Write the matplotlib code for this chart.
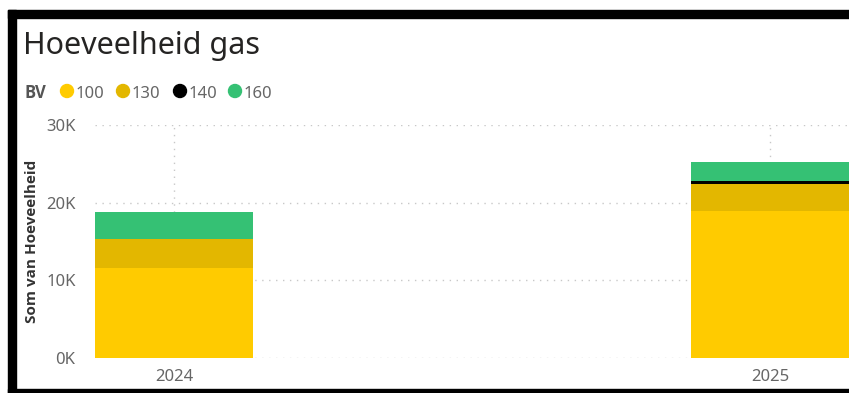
import numpy as np
import matplotlib.pyplot as plt
from matplotlib.patches import Rectangle, Ellipse

# data
years = ['2024', '2025']
bv_labels = ['100', '130', '140', '160']
bv_100 = [11600, 18900]
bv_130 = [3660, 3500]
bv_140 = [0, 400]
bv_160 = [3540, 2400]
y_ticks = [0, 10000, 20000, 30000]
y_tick_labels = ['0K', '10K', '20K', '30K']

colors = ['#FFCB00', '#E3B700', '#000000', '#35C174']
series = [bv_100, bv_130, bv_140, bv_160]

W, H = 849, 393
fig = plt.figure(figsize=(W / 100, H / 100), dpi=100)
plt.rcParams['font.family'] = ['Noto Sans', 'DejaVu Sans']

def px(x, y):
    # pixel (top-left origin) -> figure fraction
    return x / W, 1 - y / H

ax = fig.add_axes([95 / W, 1 - 357.7 / H, (W - 95) / W, (357.7 - 125) / H])

x = np.arange(len(years))
bottom = np.zeros(len(years))
for vals, col in zip(series, colors):
    ax.bar(x, vals, width=0.265, bottom=bottom, color=col, zorder=2, linewidth=0)
    bottom += np.array(vals)

ax.set_xlim(-0.1326, 1.1326)
ax.set_ylim(0, 30000)
ax.set_yticks(y_ticks)
ax.set_yticklabels(y_tick_labels)
ax.set_xticks(x)
ax.set_xticklabels(years)
ax.tick_params(length=0, labelsize=12, labelcolor='#666666', pad=8)
ax.tick_params(axis='y', pad=14)
ax.grid(True, color='#C8C8C8', linestyle=(0, (1, 4)), linewidth=1, zorder=0)
for s in ax.spines.values():
    s.set_visible(False)

# y axis title
fig.text(*px(32, 241), 'Som van Hoeveelheid', rotation=90, ha='center', va='center',
         fontsize=11, color='#333333', fontweight='bold', family='Open Sans')

# chart title
fig.text(*px(23, 54), 'Hoeveelheid gas', fontsize=22, color='#252423', ha='left', va='baseline')

# legend
fig.text(*px(24, 98), 'BV', fontsize=12, color='#555555', fontweight='bold',
         family='Open Sans', ha='left', va='baseline')
leg_x = [67, 123, 180, 235]
for lx, lab, col in zip(leg_x, bv_labels, colors):
    fig.patches.append(Ellipse(px(lx, 91), 13 / W, 13 / H, transform=fig.transFigure,
                               color=col, zorder=5))
    fig.text(*px(lx + 9, 98), lab, fontsize=12, color='#666666', ha='left', va='baseline')

# black frame
def frame(x0, y0, x1, y1):
    fig.patches.append(Rectangle((x0 / W, 1 - y1 / H), (x1 - x0) / W, (y1 - y0) / H,
                                 transform=fig.transFigure, color='black', zorder=10))

frame(8, 10, W, 18)
frame(8, 10, 16, H)
frame(8, 389, W, H)

fig.savefig('out.png', dpi=100)
